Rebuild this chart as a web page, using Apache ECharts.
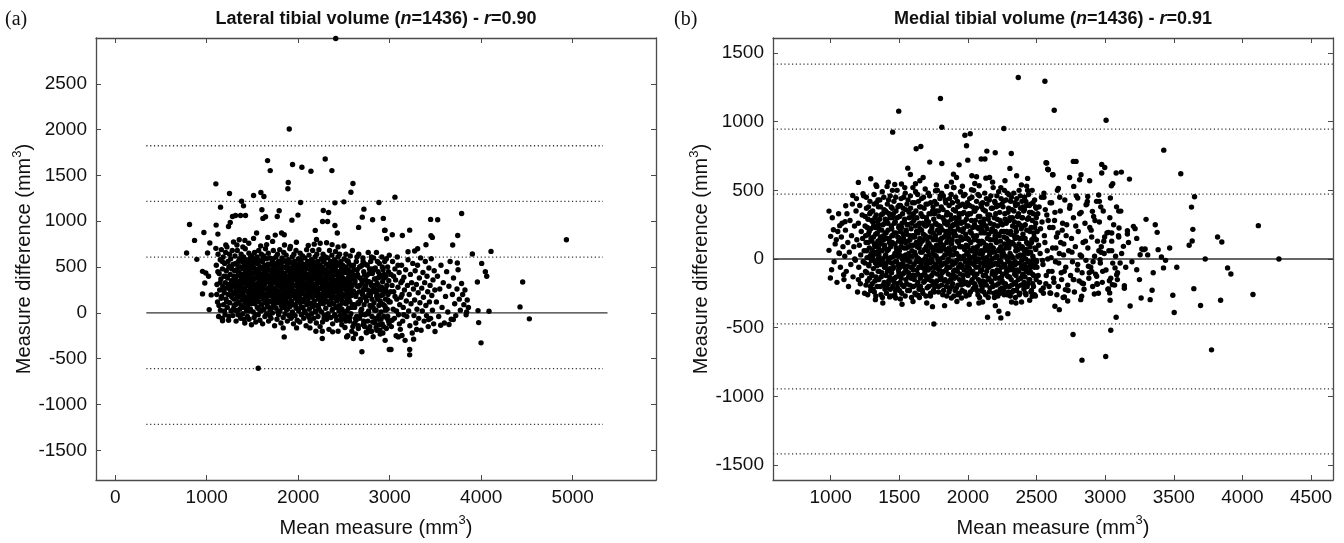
<!DOCTYPE html>
<html>
<head>
<meta charset="utf-8">
<script src="https://cdn.jsdelivr.net/npm/echarts@6/dist/echarts.min.js"></script>
<style>
html,body{margin:0;padding:0;background:#fff;}
#chart{width:1344px;height:543px;}
</style>
</head>
<body>
<div id="chart"></div>
<script>
// ---------- Panel (a): Lateral tibial volume ----------
const lateralTitle = ['Lateral tibial volume (', 'n', '=1436) - ', 'r', '=0.90'];
const lateralXTicks = [0, 1000, 2000, 3000, 4000, 5000];
const lateralYTicks = [-1500, -1000, -500, 0, 500, 1000, 1500, 2000, 2500];
const lateralXRange = [-210, 5910];
const lateralYRange = [-1824, 3000];
const lateralMean = 0;
const lateralLimits = [1824, 1216, 608, -608, -1216];
const lateralLineExtent = [340, 5330];
const lateralMeanExtent = [340, 5380];

const lateralOutliers = [
[2410,2995],[1902,2007],[1665,1662],[1694,1553],[1938,1619],[2040,1590],[2139,1546],[2295,1680],[2368,1553],[1100,1408],[1891,1423],[1887,1354],[2598,1412],[2576,1317],[1249,1303],[1512,1281],[1592,1314],[1625,1270],[1381,1219],[1402,1168],[1151,1154],[2026,1205],[2401,1201],[2499,1212],[2882,1205],[812,965],[1103,958],[1122,860],[969,878],[867,791],[780,653],[892,584],[1009,653],[1238,943],[1257,987],[1282,1052],[1315,1063],[1370,1063],[1424,1063],[1614,1031],[1643,1049],[1771,1052],[1792,1114],[1603,1125],[1931,1012],[1997,1067],[2274,1118],[2332,1096],[2266,998],[2321,998],[2401,954],[2427,871],[2660,933],[2700,1045],[2718,1132],[2813,1016],[2930,1031],[2944,900],[2966,809],[1293,773],[1417,791],[1512,813],[1545,871],[1668,824],[1749,849],[1818,871],[1847,853],[2186,900],[2200,802],[2310,766],[1034,762],[1100,704],[1209,740],[1355,798],[954,453],[990,435],[1020,399],[979,326],[954,207],[1049,196],[1027,36],[1173,-73],[1173,-87],[1836,-164],[1847,-262],[1982,-164],[2128,-164],[2193,-200],[2263,-200],[2263,-280],[2376,-207],[2529,-262],[2602,-280],[2616,-116],[2696,-425],[2718,-116],[2747,-218],[2802,-200],[2893,-189],[2995,-400],[1563,-605],
[3057,1263],[3447,1020],[3524,1016],[3786,1085],[2948,903],[3028,853],[3138,845],[3218,903],[3451,842],[3466,824],[3743,845],[3688,740],[3903,642],[4107,671],[4931,798],[3396,744],[3305,700],[3200,667],[3272,675],[3739,544],[4005,540],[4045,450],[4060,399],[3958,337],[4453,337],[4424,65],[4526,-65],[4085,18],[3965,25],[3972,-106],[3998,-327],[3841,11],[3695,-73],[3648,-127],[3557,-135],[3495,-204],[3426,-73],[3294,-182],[3261,-287],[3218,-400],[3218,-458],[3134,-247],[3094,-262],[3014,-400]
];

const lateralCore = [
[1105,520],[1112,310],[1118,120],[1124,640],[1130,-40],[1136,430],[1142,250],[1148,580],[1150,30],[1155,370],[1160,690],[1163,180],[1168,-60],[1172,480],[1176,290],[1180,610],[1184,90],[1188,400],[1192,220],[1196,540],[1200,-20],[1203,330],[1207,660],[1211,150],[1214,460],[1218,270],[1221,720],[1225,60],[1228,380],[1232,560],[1235,200],[1239,-80],[1242,500],[1246,310],[1249,640],[1252,110],[1256,420],[1259,250],[1262,590],[1266,20],[1269,350],[1273,480],[1276,170],[1279,680],[1283,290],[1286,-30],[1290,530],[1293,220],[1296,400],[1299,80],
[1302,150],[1304,460],[1307,290],[1309,620],[1311,30],[1314,380],[1316,210],[1318,540],[1321,-90],[1323,330],[1326,100],[1328,470],[1331,250],[1334,680],[1337,170],[1340,410],[1343,-20],[1346,560],[1348,300],
[1351,120],[1353,440],[1356,260],[1358,590],[1361,40],[1363,350],[1366,190],[1368,500],[1371,-60],[1373,310],[1376,640],[1378,80],[1381,420],[1384,230],[1386,560],[1389,140],[1392,370],[1395,-10],[1398,480],
[1401,270],[1403,610],[1406,60],[1408,390],[1411,180],[1413,520],[1416,-110],[1418,330],[1421,700],[1423,110],[1426,450],[1428,240],[1431,580],[1434,20],[1436,360],[1439,160],[1442,490],[1445,-40],[1448,300],
[1451,540],[1453,90],[1456,410],[1458,220],[1461,650],[1463,-70],[1466,340],[1468,130],[1471,470],[1473,260],[1476,600],[1478,40],[1481,380],[1484,200],[1486,510],[1489,-130],[1492,290],[1495,620],[1498,150],
[1501,430],[1503,250],[1506,580],[1508,10],[1511,360],[1513,170],[1516,490],[1518,-50],[1521,310],[1523,660],[1526,100],[1528,440],[1531,230],[1534,550],[1536,-100],[1539,380],[1542,140],[1545,470],[1548,280],
[1551,610],[1553,60],[1556,400],[1558,210],[1561,530],[1563,-20],[1566,330],[1568,680],[1571,120],[1573,450],[1576,260],[1578,570],[1581,-80],[1584,370],[1586,180],[1589,500],[1592,20],[1595,300],[1598,640],
[1601,90],[1603,420],[1606,240],[1608,560],[1611,-120],[1613,350],[1616,150],[1618,480],[1621,290],[1623,620],[1626,40],[1628,390],[1631,200],[1634,520],[1636,-40],[1639,320],[1642,700],[1645,110],[1648,450],
[1651,260],[1653,590],[1656,-10],[1658,370],[1661,180],[1663,500],[1666,70],[1668,410],[1671,230],[1673,650],[1676,-90],[1678,340],[1681,130],[1684,470],[1686,280],[1689,600],[1692,30],[1695,390],[1698,200],
[1701,530],[1703,-60],[1706,310],[1708,120],[1711,440],[1713,250],[1716,570],[1718,0],[1721,360],[1723,170],[1726,490],[1728,680],[1731,80],[1734,400],[1736,220],[1739,540],[1742,-140],[1745,330],[1748,150],
[1751,460],[1753,270],[1756,610],[1758,50],[1761,380],[1763,190],[1766,510],[1768,-70],[1771,300],[1773,640],[1776,110],[1778,430],[1781,240],[1784,560],[1786,-20],[1789,350],[1792,160],[1795,480],[1798,690],
[1801,20],[1803,390],[1806,210],[1808,530],[1811,-110],[1813,320],[1816,130],[1818,450],[1821,260],[1823,600],[1826,60],[1828,410],[1831,180],[1834,500],[1836,-50],[1839,340],[1842,660],[1845,100],[1848,420],
[1851,230],[1853,570],[1856,-10],[1858,370],[1861,150],[1863,490],[1866,290],[1868,630],[1871,40],[1873,400],[1876,200],[1878,520],[1881,-90],[1884,320],[1886,110],[1889,460],[1892,250],[1895,580],[1898,-30],
[1901,350],[1903,170],[1906,490],[1908,700],[1911,70],[1913,410],[1916,220],[1918,550],[1921,-60],[1923,310],[1926,130],[1928,450],[1931,270],[1934,610],[1936,10],[1939,380],[1942,190],[1945,510],[1948,-120],
[1951,300],[1953,640],[1956,90],[1958,430],[1961,240],[1963,560],[1966,-30],[1968,360],[1971,160],[1973,480],[1976,680],[1978,50],[1981,390],[1984,200],[1986,520],[1989,-80],[1992,330],[1995,140],[1998,460],
[2001,260],[2003,590],[2006,20],[2008,370],[2011,180],[2013,500],[2016,-100],[2018,310],[2021,650],[2023,110],[2026,440],[2028,230],[2031,570],[2034,-20],[2036,350],[2039,150],[2042,470],[2045,280],[2048,620],
[2051,60],[2053,400],[2056,210],[2058,530],[2061,-60],[2063,330],[2066,120],[2068,450],[2071,260],[2073,600],[2076,0],[2078,380],[2081,190],[2084,510],[2086,-140],[2089,300],[2092,690],[2095,90],[2098,420],
[2101,240],[2103,560],[2106,-30],[2108,350],[2111,160],[2113,480],[2116,280],[2118,630],[2121,40],[2123,400],[2126,210],[2128,520],[2131,-90],[2134,320],[2136,100],[2139,460],[2142,250],[2145,580],[2148,-10],
[2151,360],[2153,170],[2156,500],[2158,680],[2161,70],[2163,420],[2166,230],[2168,550],[2171,-60],[2173,310],[2176,130],[2178,450],[2181,270],[2184,610],[2186,20],[2189,380],[2192,190],[2195,520],[2198,-110],
[2201,300],[2203,640],[2206,80],[2208,430],[2211,240],[2213,560],[2216,-40],[2218,350],[2221,150],[2223,480],[2226,690],[2228,40],[2231,390],[2234,200],[2236,520],[2239,-150],[2242,330],[2245,110],[2248,460],
[2251,260],[2253,590],[2256,10],[2258,370],[2261,180],[2263,500],[2266,-100],[2268,310],[2271,640],[2273,100],[2276,440],[2278,230],[2281,570],[2284,-30],[2286,350],[2289,150],[2292,470],[2295,280],[2298,610],
[2301,50],[2303,400],[2306,210],[2308,530],[2311,-70],[2313,330],[2316,120],[2318,450],[2321,260],[2323,600],[2326,-10],[2328,380],[2331,190],[2334,510],[2336,-180],[2339,300],[2342,680],[2345,90],[2348,420],
[2351,240],[2353,560],[2356,-50],[2358,350],[2361,160],[2363,480],[2366,280],[2368,630],[2371,30],[2373,400],[2376,-120],[2378,520],[2381,210],[2384,320],[2386,100],[2389,460],[2392,250],[2395,580],[2398,-20],
[2401,360],[2403,170],[2406,500],[2408,670],[2411,60],[2413,420],[2416,230],[2418,550],[2421,-80],[2423,310],[2426,130],[2428,450],[2431,270],[2434,610],[2436,-200],[2439,380],[2442,190],[2445,20],[2448,520],
[2451,300],[2453,640],[2456,80],[2458,430],[2461,-30],[2463,240],[2466,560],[2468,350],[2471,150],[2473,480],[2476,-130],[2478,40],[2481,390],[2484,200],[2486,520],[2489,-60],[2492,330],[2495,110],[2498,460],
[2501,260],[2503,590],[2506,10],[2508,370],[2511,-160],[2513,180],[2516,500],[2518,310],[2521,640],[2523,100],[2526,440],[2528,-40],[2531,230],[2534,570],[2536,350],[2539,150],[2542,-250],[2545,470],[2548,280],
[2551,50],[2553,400],[2556,210],[2558,530],[2561,-90],[2563,330],[2566,120],[2568,620],[2571,450],[2573,260],[2576,-10],[2578,380],[2581,190],[2584,510],[2586,-200],[2589,300],[2592,680],[2595,90],[2598,420],
[2603,240],[2608,-120],[2612,470],[2617,60],[2621,350],[2626,-230],[2630,180],[2635,560],[2639,-40],[2644,290],[2648,420],[2653,110],[2657,-170],[2662,640],[2666,230],[2671,-60],[2675,380],[2680,150],[2684,510],[2689,-280],[2693,40],[2698,320],[2702,200],[2707,600],[2711,-130],[2716,450],[2720,90],[2725,270],[2729,-20],[2734,530],[2738,360],[2743,-210],[2747,130],[2752,410],[2756,250],[2761,-90],[2765,660],[2770,20],[2774,340],[2779,480],[2783,-150],[2788,190],[2792,560],[2797,70],[2801,300],[2806,-40],[2810,430],[2815,230],[2819,-260],[2824,600],[2828,110],[2833,370],[2837,-110],[2842,490],[2846,250],[2851,30],[2855,660],[2860,-190],[2864,320],[2869,150],[2873,450],[2878,-70],[2882,80],[2887,540],[2891,280],[2896,-230],[2900,390],[2905,10],[2909,190],[2914,610],[2918,-120],[2923,340],[2927,470],[2932,90],[2936,-40],[2941,250],[2945,560],[2950,-300],[2954,150],[2959,400],[2963,-170],[2968,300],[2972,40],[2977,500],[2981,200],[2986,-90],[2990,350],[2995,630],
[3005,120],[3012,420],[3018,-150],[3025,300],[3031,560],[3038,40],[3044,230],[3051,-60],[3057,480],[3064,360],[3070,-250],[3077,150],[3083,610],[3090,280],[3096,-20],[3103,440],[3109,90],[3116,-180],[3122,330],[3129,520],[3135,200],[3142,-90],[3148,60],[3155,390],[3161,250],[3168,-300],[3174,470],[3181,130],[3187,-40],[3194,300],[3200,580],[3207,20],[3213,200],[3220,-140],[3226,420],[3233,100],[3239,330],[3246,-220],[3252,540],[3259,260],[3265,-30],[3272,140],[3278,460],[3285,-110],[3291,310],[3298,40],[3304,520],[3311,220],[3317,-60],[3324,380],[3330,110],[3337,600],[3343,-190],[3350,270],[3356,20],[3363,440],[3369,170],[3376,-90],[3382,330],[3389,560],[3395,80],[3402,-30],[3408,400],[3415,230],[3421,-150],[3428,490],[3434,120],[3441,300],[3447,-60],[3454,590],[3460,190],[3467,30],[3473,360],[3480,-120],[3486,460],[3493,250],
[3510,120],[3522,400],[3535,-40],[3547,260],[3560,520],[3572,60],[3585,330],[3597,-110],[3610,180],[3622,450],[3635,10],[3647,290],[3660,560],[3672,-70],[3685,200],[3697,380],[3710,100],[3722,-30],[3735,260],[3747,470],[3760,150],[3772,30],[3785,320],[3797,200],[3810,90],[3822,250],[3835,-20],[3847,140],[3860,60]
];

const lateralCoreExtra = [
[1110,200],[1122,450],[1134,80],[1146,330],[1158,160],[1170,560],[1182,250],[1194,20],[1206,400],[1218,120],[1230,280],[1242,-40],[1254,510],[1266,190],[1278,340],[1290,40],
[1305,360],[1312,90],[1319,250],[1327,530],[1333,20],[1339,310],[1344,180],[1349,440],
[1354,290],[1359,500],[1364,-30],[1369,230],[1375,400],[1380,60],[1388,330],[1396,200],
[1404,420],[1409,-70],[1414,270],[1419,130],[1425,560],[1432,300],[1440,50],[1447,410],
[1454,180],[1459,350],[1464,20],[1470,560],[1475,240],[1482,440],[1488,100],[1496,330],
[1504,320],[1509,120],[1515,540],[1520,200],[1527,380],[1533,-20],[1540,260],[1547,600],
[1554,160],[1559,470],[1565,280],[1570,40],[1577,350],[1583,220],[1590,420],[1597,90],
[1604,310],[1609,180],[1615,590],[1620,40],[1627,260],[1633,440],[1640,130],[1647,350],
[1654,420],[1659,100],[1665,260],[1670,530],[1677,200],[1683,370],[1690,-30],[1697,300],
[1704,190],[1709,380],[1715,60],[1720,270],[1727,590],[1733,330],[1740,100],[1747,450],
[1754,350],[1759,140],[1765,420],[1770,240],[1777,10],[1783,380],[1790,560],[1797,200],
[1804,290],[1809,460],[1815,80],[1820,360],[1827,200],[1833,560],[1840,130],[1847,280],
[1854,430],[1859,90],[1865,300],[1870,200],[1877,560],[1883,40],[1890,360],[1897,240],
[1904,270],[1909,100],[1915,410],[1920,190],[1927,340],[1933,-40],[1940,470],[1947,220],
[1954,200],[1959,370],[1965,560],[1970,80],[1977,300],[1983,430],[1990,130],[1997,250],
[2004,420],[2009,130],[2015,300],[2020,550],[2027,60],[2033,380],[2040,220],[2047,460],
[2054,310],[2059,150],[2065,490],[2070,20],[2077,270],[2083,410],[2090,180],[2097,330],
[2104,140],[2109,420],[2115,290],[2120,-50],[2127,370],[2133,200],[2140,540],[2147,90],
[2154,280],[2159,560],[2165,110],[2170,380],[2177,230],[2183,480],[2190,10],[2197,320],
[2204,190],[2209,370],[2215,500],[2220,70],[2227,270],[2233,410],[2240,160],[2247,340],
[2254,420],[2259,110],[2265,290],[2270,560],[2277,200],[2283,-60],[2290,350],[2297,180],
[2304,270],[2309,130],[2315,390],[2320,-30],[2327,210],[2333,500],[2340,100],[2347,320],
[2354,120],[2359,430],[2365,220],[2370,370],[2377,40],[2383,270],[2390,560],[2397,160],
[2404,300],[2409,-40],[2415,460],[2420,160],[2427,350],[2433,70],[2440,260],[2447,410],
[2454,180],[2459,360],[2465,-80],[2470,260],[2477,500],[2483,110],[2490,300],[2497,-10],
[2504,440],[2509,120],[2515,260],[2520,-90],[2527,350],[2533,20],[2540,200],[2547,560],
[2554,150],[2559,300],[2565,-50],[2570,420],[2577,230],[2583,60],[2590,370],[2597,-150],
[2605,380],[2618,200],[2632,-80],[2645,470],[2658,100],[2672,300],[2685,20],[2698,520],[2712,250],[2725,-150],[2738,160],[2752,340],[2765,-10],[2778,240],[2792,-200],[2805,480],[2818,60],[2832,300],[2845,-60],[2858,180],[2872,380],[2885,-130],[2898,250],[2912,100],[2925,-220],[2938,420],[2952,30],[2965,230],[2978,-40],[2992,120]
];

const lateralCoreEdge = [
[2604,520],[2611,90],[2619,330],[2627,-60],[2634,210],[2642,610],[2649,400],[2656,-140],[2664,290],[2671,500],[2679,130],[2686,-20],[2694,360],[2701,220],[2709,560],[2716,-90],[2724,410],[2731,170],[2739,300],[2746,-10],[2754,520],[2761,190],[2769,-180],[2776,430],[2784,80],[2791,330],[2799,610],[2806,150],[2814,-100],[2821,260],[2829,470],[2836,30],[2844,370],[2851,-160],[2859,210],[2866,560],[2874,300],[2881,-30],[2889,420],[2896,130],[2904,-70],[2911,280],[2919,500],[2926,200],[2934,-150],[2941,380],[2949,70],[2956,260],[2964,590],[2971,-60],[2979,140],[2986,450],[2994,-120],[3010,230],[3026,-80],[3042,400],[3058,180],[3074,20],[3090,520],[3106,-120],[3122,170],[3138,350],[3154,-20],
[1330,740],[1460,760],[1590,730],[1720,780],[1850,740],[1980,770],[2110,735],[2240,760],[2370,745],[2500,730],[1395,720],[1655,745],[1915,725],[2175,750],[2435,720]
];

// ---------- Panel (b): Medial tibial volume ----------
const medialTitle = ['Medial tibial volume (', 'n', '=1436) - ', 'r', '=0.91'];
const medialXTicks = [1000, 1500, 2000, 2500, 3000, 3500, 4000, 4500];
const medialYTicks = [-1500, -1000, -500, 0, 500, 1000, 1500];
const medialXRange = [580, 4660];
const medialYRange = [-1610, 1610];
const medialMean = 0;
const medialLimits = [1419, 946, 473, -473, -946, -1419];
const medialLineExtent = [580, 4660];

const medialOutliers = [
[2367,1322],[2561,1295],[2629,1084],[1800,1169],[1496,1077],[1452,924],[1810,960],[2262,951],[1978,902],[2017,912],[1990,825],[1623,803],[1657,820],[1722,706],[1810,696],[1999,720],[1936,686],[2138,786],[2199,774],[2097,728],[2124,728],[2316,769],[2306,660],[2569,701],[2586,650],[2617,614],[1562,662],[1581,616],[1674,594],[1895,618],[1917,594],[2029,606],[2063,599],[2158,594],[1292,585],[1202,558],[1336,529],[1411,529],[1467,543],[1516,546],[1618,548],[1764,497],[1846,529],[1895,521],[2026,504],[2082,534],[2131,589],[2270,570],[2355,606],[2435,587],[2428,531],
[988,349],[1110,388],[1161,463],[1236,475],[1000,165],[1020,213],[988,63],[1007,-78],[998,-138],[1095,-114],[1061,44],[1041,141],[1066,243],[1105,272],[1202,-150],[1326,-296],[1430,-276],[1474,-284],[1508,-291],[1637,-264],[1742,-347],[1752,-473],[1880,-284],[1953,-284],[2107,-313],[2143,-424],[2226,-381],[2240,-429],[2291,-398],[2318,-313],[2391,-313],[2469,-271],[2634,-344],[2666,-369],
[3007,1011],[3427,793],[3551,621],[3651,454],[3629,378],[3639,216],[3612,100],[3634,131],[3819,160],[3850,124],[4116,243],[4266,0],[3729,0],[3298,289],[3379,194],[3386,68],[3410,15],[3425,-65],[3522,-60],[3230,-78],[3342,-228],[3262,-284],[3328,-296],[3182,-342],[3493,-264],[3503,-390],[3646,-216],[3695,-339],[3841,-301],[4077,-259],[3892,-65],[3916,-109],[3775,-662],[2766,-550],[2831,-737],[3004,-710],[3041,-519],[3080,-424],[3036,-301],[3033,-247],[3140,-213],[3140,-194],[3089,-150],[3133,92],[3099,160],[3162,182],[3162,206],[3206,238],[3218,221],[3255,31],[3279,68],[3267,73],[3291,73],[3177,582],[3118,633],[3080,626],[3099,349],[3114,349],[3045,534],[3055,548],[3038,444],[2953,466],[2975,689],[2997,667],[2975,626],[2887,570],[2824,614],[2814,577],[2741,594],[2788,711],[2768,711],[2581,655],[2620,614],[2659,514],[2574,699],[2554,480],[2771,529],[2800,444],[2873,456],[2861,395],[2907,347],[2958,420],[3101,226],[3024,194],[3048,189],[2990,129],[3048,61],[2970,49],[2963,-5],[2878,-53],[2902,-90],[2938,-126],[2943,-184],[2921,-255],[2831,-174],[2768,-150],[2829,-271],[2822,-296],[2710,-223],[2703,-276],[2727,-306],[2549,-211],[2598,-247],[3031,-158],[3084,-114],[3109,-29],[3072,-65],[3053,-187],[3024,-218]
];

const medialCore = [
[1012,300],[1025,-20],[1033,110],[1046,-170],[1052,200],[1064,40],[1071,-60],[1083,260],[1090,90],[1097,-150],[1078,160],[1058,330],
[1103,20],[1108,210],[1114,-90],[1119,330],[1125,120],[1130,-200],[1136,50],[1141,280],[1147,-40],[1152,170],[1158,400],[1163,-130],[1169,90],[1174,240],[1180,-10],[1185,350],[1191,140],[1196,-240],[1188,440],[1176,0],
[1202,260],[1205,-60],[1209,100],[1212,390],[1216,-180],[1219,30],[1223,200],[1226,-120],[1230,320],[1233,150],[1237,-20],[1240,460],[1244,60],[1247,-250],[1251,240],[1254,-90],[1258,120],[1261,370],[1265,10],[1268,-160],[1272,290],[1275,180],[1279,-40],[1282,80],[1286,420],[1289,-200],[1293,220],[1296,40],[1299,-110],[1285,330],
[1301,130],[1303,-180],[1306,350],[1308,20],[1311,-70],[1313,240],[1316,470],[1318,-240],[1321,90],[1323,300],[1326,-30],[1328,180],[1331,-130],[1334,410],[1336,50],[1339,-200],[1342,270],[1344,130],[1346,-90],[1348,380],[1349,10],
[1351,-150],[1353,220],[1356,60],[1358,430],[1361,-40],[1363,160],[1366,-260],[1368,320],[1371,110],[1373,-100],[1376,490],[1378,0],[1381,250],[1384,-190],[1386,140],[1389,360],[1392,-60],[1394,80],[1396,-220],[1398,290],[1399,190],
[1401,30],[1403,-120],[1406,280],[1408,150],[1411,-210],[1413,400],[1416,-20],[1418,210],[1421,70],[1423,-160],[1426,330],[1428,120],[1431,-70],[1434,460],[1436,10],[1439,-270],[1442,240],[1444,-100],[1446,170],[1448,370],[1449,-30],
[1451,300],[1453,-200],[1456,110],[1458,-60],[1461,420],[1463,190],[1466,-140],[1468,40],[1471,270],[1473,-230],[1476,350],[1478,80],[1481,-20],[1484,500],[1486,-180],[1489,160],[1492,20],[1494,-80],[1496,230],[1498,390],[1499,-120],
[1501,60],[1503,310],[1506,-170],[1508,200],[1511,-40],[1513,440],[1516,120],[1518,-250],[1521,260],[1523,0],[1526,-110],[1528,370],[1531,150],[1534,-200],[1536,80],[1539,290],[1542,-60],[1544,480],[1546,30],[1548,-150],[1549,210],
[1551,-90],[1553,180],[1556,400],[1558,-10],[1561,-230],[1563,250],[1566,90],[1568,-130],[1571,340],[1573,20],[1576,-190],[1578,140],[1581,460],[1584,-60],[1586,220],[1589,-280],[1592,60],[1594,310],[1596,-120],[1598,170],[1599,520],
[1601,100],[1603,-200],[1606,280],[1608,-40],[1611,410],[1613,160],[1616,-120],[1618,30],[1621,350],[1623,-260],[1626,200],[1628,-80],[1631,90],[1634,470],[1636,-170],[1639,250],[1642,0],[1644,-220],[1646,130],[1648,380],[1649,-20],
[1651,220],[1653,-140],[1656,50],[1658,330],[1661,-60],[1663,440],[1666,130],[1668,-230],[1671,260],[1673,-10],[1676,180],[1678,-170],[1681,370],[1684,70],[1686,-100],[1689,510],[1692,240],[1694,-270],[1696,20],[1698,300],[1699,-50],
[1701,150],[1703,-210],[1706,400],[1708,60],[1711,-80],[1713,270],[1716,-150],[1718,110],[1721,460],[1723,-30],[1726,200],[1728,-250],[1731,330],[1734,0],[1736,-120],[1739,240],[1742,80],[1744,-190],[1746,380],[1748,140],[1749,-60],
[1751,290],[1753,-100],[1756,30],[1758,420],[1761,-200],[1763,170],[1766,-40],[1768,350],[1771,100],[1773,-160],[1776,250],[1778,500],[1781,-70],[1784,60],[1786,-240],[1789,310],[1792,190],[1794,-20],[1796,440],[1798,-130],[1799,120],
[1801,-50],[1803,230],[1806,380],[1808,-190],[1811,90],[1813,-100],[1816,300],[1818,10],[1821,460],[1823,-230],[1826,160],[1828,-30],[1831,260],[1834,-150],[1836,70],[1839,410],[1842,-80],[1844,200],[1846,-270],[1848,340],[1849,40],
[1851,130],[1853,-170],[1856,270],[1858,0],[1861,-60],[1863,390],[1866,190],[1868,-220],[1871,60],[1873,320],[1876,-120],[1878,470],[1881,110],[1884,-20],[1886,240],[1889,-180],[1892,30],[1894,360],[1896,-90],[1898,170],[1899,520],
[1901,-140],[1903,80],[1906,300],[1908,-30],[1911,450],[1913,170],[1916,-210],[1918,40],[1921,250],[1923,-90],[1926,380],[1928,-260],[1931,120],[1934,20],[1936,330],[1939,-150],[1942,210],[1944,-40],[1946,490],[1948,90],[1949,-180],
[1951,260],[1953,-60],[1956,140],[1958,-230],[1961,400],[1963,10],[1966,-120],[1968,220],[1971,340],[1973,-180],[1976,70],[1978,470],[1981,-20],[1984,180],[1986,-270],[1989,290],[1992,40],[1994,-100],[1996,410],[1998,150],[1999,-40],
[2001,90],[2003,-190],[2006,330],[2008,20],[2011,-70],[2013,440],[2016,200],[2018,-240],[2021,120],[2023,-30],[2026,280],[2028,60],[2031,-150],[2034,380],[2036,-90],[2039,170],[2042,500],[2044,-210],[2046,10],[2048,250],[2049,-120],
[2051,350],[2053,-20],[2056,160],[2058,-200],[2061,70],[2063,420],[2066,-110],[2068,230],[2071,0],[2073,-260],[2076,310],[2078,130],[2081,-60],[2084,460],[2086,40],[2089,-170],[2092,270],[2094,-30],[2096,190],[2098,-230],[2099,380],
[2101,-80],[2103,210],[2106,40],[2108,-160],[2111,360],[2113,120],[2116,-240],[2118,290],[2121,-20],[2123,480],[2126,80],[2128,-120],[2131,240],[2134,-190],[2136,10],[2139,400],[2142,150],[2144,-60],[2146,320],[2148,-280],[2149,60],
[2151,180],[2153,-140],[2156,430],[2158,30],[2161,-210],[2163,260],[2166,100],[2168,-50],[2171,370],[2173,-170],[2176,0],[2178,220],[2181,-90],[2184,520],[2186,140],[2189,-250],[2192,300],[2194,50],[2196,-120],[2198,410],[2199,200],
[2201,-30],[2203,330],[2206,-190],[2208,120],[2211,460],[2213,-80],[2216,240],[2218,-270],[2221,60],[2223,390],[2226,-140],[2228,170],[2231,-10],[2234,280],[2236,-220],[2239,90],[2242,440],[2244,-60],[2246,200],[2248,20],[2249,-160],
[2251,250],[2253,-110],[2256,380],[2258,40],[2261,-230],[2263,160],[2266,500],[2268,-40],[2271,290],[2273,-180],[2276,80],[2278,430],[2281,-90],[2284,200],[2286,-260],[2289,10],[2292,340],[2294,-130],[2296,130],[2298,470],[2299,-20],
[2301,100],[2303,-200],[2306,300],[2308,-50],[2311,420],[2313,180],[2316,-150],[2318,20],[2321,360],[2323,-240],[2326,240],[2328,-80],[2331,110],[2334,480],[2336,-180],[2339,270],[2342,-20],[2344,150],[2346,-280],[2348,390],[2349,60],
[2351,-120],[2353,200],[2356,440],[2358,-30],[2361,310],[2363,-200],[2366,70],[2368,260],[2371,-90],[2373,500],[2376,150],[2378,-250],[2381,30],[2384,370],[2386,-140],[2389,220],[2392,-10],[2394,420],[2396,90],[2398,-190],[2399,300],
[2401,180],[2403,-70],[2406,350],[2408,-220],[2411,60],[2413,450],[2416,-130],[2418,250],[2421,0],[2423,-260],[2426,390],[2428,120],[2431,-60],[2434,290],[2436,-180],[2439,40],[2442,470],[2444,-100],[2446,210],[2448,-20],[2449,340],
[2451,-150],[2453,90],[2456,400],[2458,-40],[2461,230],[2463,-230],[2466,140],[2468,500],[2471,-110],[2473,20],[2476,330],[2478,-200],[2481,190],[2484,-60],[2486,430],[2489,80],[2492,-270],[2494,260],[2496,-10],[2498,370],[2499,140],
[2505,200],[2512,-120],[2519,380],[2526,40],[2533,-230],[2540,270],[2547,-40],[2554,450],[2561,120],[2568,-180],[2575,320],[2582,0],[2589,-90],[2596,230],
[2603,-250],[2610,410],[2617,80],[2624,-140],[2631,280],[2638,-20],[2645,160],[2652,500],[2659,-200],[2666,40],[2673,350],[2680,-100],[2687,210],[2694,-280],[2699,110],
[2706,430],[2713,-60],[2720,250],[2727,-190],[2734,60],[2741,370],[2748,-120],[2755,150],[2762,-20],[2769,300],[2776,-240],[2783,90],[2790,460],[2797,-80],
[2804,200],[2811,-160],[2818,30],[2825,340],[2832,-100],[2839,120],[2846,-220],[2853,260],[2860,-10],[2867,400],[2874,80],[2881,-140],[2888,230],[2895,-60],
[2902,160],[2909,-200],[2916,310],[2923,20],[2930,-110],[2937,420],[2944,130],[2951,-250],[2958,270],[2965,-30],[2972,90],[2979,-170],[2986,350],[2993,40],
[3006,-80],[3013,190],[3020,-220],[3027,60],[3034,300],[3041,-140],[3048,130],[3055,-30],[3062,250],[3069,-190],[3076,20],[3083,380],[3090,-100],[3097,170],
[3120,40],[3150,-60],[3170,120],[3195,-20],[3230,150],[3250,-150],[3310,30],[3350,-100],[3365,250],[3440,-10],[3470,80]
];

const medialCoreExtra = [
[1250,-30],[1252,310],[1255,170],[1257,-190],[1260,450],[1262,60],[1264,-100],[1267,230],[1270,-260],[1273,120],[1276,380],[1278,-50],[1281,200],[1283,-140],[1287,20],[1290,340],[1292,-230],[1294,150],[1297,-10],[1298,280],
[1302,-120],[1304,60],[1307,270],[1309,-220],[1312,160],[1314,-10],[1317,400],[1319,110],[1322,-160],[1324,230],[1327,40],[1329,-270],[1332,320],[1335,100],[1337,-50],[1340,190],[1343,-150],[1345,430],[1347,-20],[1349,250],[1350,80],
[1352,30],[1354,-90],[1357,290],[1359,140],[1362,-200],[1364,380],[1367,0],[1369,-130],[1372,210],[1374,60],[1377,-280],[1379,330],[1382,-30],[1385,170],[1387,450],[1390,-170],[1393,100],[1395,260],[1397,-60],[1398,20],[1400,350],
[1402,-40],[1404,190],[1407,-250],[1409,340],[1412,60],[1414,-90],[1417,260],[1419,-180],[1422,430],[1424,0],[1427,150],[1429,-130],[1432,300],[1435,-220],[1437,90],[1440,380],[1443,-30],[1445,220],[1447,-150],[1449,120],[1450,500],
[1452,170],[1454,-70],[1457,330],[1459,20],[1462,-170],[1464,260],[1467,-260],[1469,110],[1472,-20],[1474,450],[1477,190],[1479,-130],[1482,60],[1485,300],[1487,-210],[1490,380],[1493,-50],[1495,130],[1497,-100],[1498,240],[1500,30],
[1502,-230],[1504,150],[1507,-60],[1509,390],[1512,90],[1514,-140],[1517,230],[1519,20],[1522,-190],[1524,330],[1527,-30],[1529,180],[1532,450],[1535,-100],[1537,270],[1540,10],[1543,-270],[1545,120],[1547,360],[1548,-70],[1550,200],
[1552,80],[1554,-180],[1557,250],[1559,-50],[1562,130],[1564,430],[1567,-100],[1569,40],[1572,300],[1574,-230],[1577,170],[1579,-20],[1582,370],[1585,100],[1587,-140],[1590,260],[1593,-60],[1595,20],[1597,410],[1598,-200],[1600,160],
[1602,-80],[1604,330],[1607,170],[1609,-150],[1612,50],[1614,-250],[1617,240],[1619,490],[1622,-20],[1624,120],[1627,-190],[1629,300],[1632,10],[1635,-110],[1637,190],[1640,420],[1643,-60],[1645,80],[1647,-280],[1648,260],[1650,150],
[1652,110],[1654,-200],[1657,380],[1659,-30],[1662,210],[1664,-120],[1667,50],[1669,310],[1672,-250],[1674,140],[1677,450],[1679,-70],[1682,250],[1685,-160],[1687,0],[1690,170],[1693,-40],[1695,400],[1697,90],[1698,-130],[1700,280],
[1702,-10],[1704,250],[1707,-130],[1709,120],[1712,480],[1714,-200],[1717,330],[1719,30],[1722,-70],[1724,160],[1727,-270],[1729,410],[1732,90],[1735,-160],[1737,220],[1740,-20],[1743,350],[1745,50],[1747,-100],[1748,190],[1750,-230],
[1752,150],[1754,-240],[1757,330],[1759,70],[1762,-60],[1764,260],[1767,-170],[1769,20],[1772,400],[1774,140],[1777,-110],[1779,210],[1782,-10],[1785,350],[1787,-200],[1790,90],[1793,-80],[1795,240],[1797,0],[1798,460],[1800,-150],
[1802,60],[1804,-130],[1807,150],[1809,480],[1812,-40],[1814,210],[1817,-260],[1819,360],[1822,100],[1824,-90],[1827,280],[1829,-160],[1832,30],[1835,430],[1837,-30],[1840,180],[1843,-200],[1845,320],[1847,120],[1848,-60],[1850,250],
[1852,-20],[1854,330],[1857,-110],[1859,160],[1862,-240],[1864,80],[1867,440],[1869,-60],[1872,220],[1874,-150],[1877,30],[1879,290],[1882,-200],[1885,140],[1887,410],[1890,-40],[1893,250],[1895,-120],[1897,70],[1898,-270],[1900,200],
[1902,190],[1904,-80],[1907,-230],[1909,350],[1912,40],[1914,-130],[1917,270],[1919,-10],[1922,130],[1924,420],[1927,-190],[1929,220],[1932,-60],[1935,300],[1937,-250],[1940,90],[1943,390],[1945,-110],[1947,160],[1948,0],[1950,270],
[1952,-190],[1954,90],[1957,330],[1959,-50],[1962,200],[1964,-150],[1967,460],[1969,20],[1972,-80],[1974,270],[1977,-240],[1979,150],[1982,380],[1985,-10],[1987,100],[1990,-170],[1993,240],[1995,-60],[1997,50],[1998,320],[2000,-120],
[2002,240],[2004,-60],[2007,140],[2009,-260],[2012,390],[2014,-10],[2017,60],[2019,330],[2022,-170],[2024,190],[2027,-100],[2029,450],[2032,10],[2035,230],[2037,-220],[2040,80],[2043,-40],[2045,350],[2047,140],[2048,-180],[2050,30],
[2052,-130],[2054,280],[2057,40],[2059,-60],[2062,370],[2064,170],[2067,-230],[2069,90],[2072,-20],[2074,470],[2077,-150],[2079,220],[2082,0],[2085,-280],[2087,310],[2090,110],[2093,-90],[2095,400],[2097,60],[2098,-190],[2100,240],
[2102,130],[2104,-210],[2107,410],[2109,10],[2112,-120],[2114,260],[2117,60],[2119,-50],[2122,190],[2124,-170],[2127,350],[2129,-260],[2132,100],[2135,440],[2137,-90],[2140,220],[2143,-30],[2145,70],[2147,-150],[2148,290],[2150,-10],
[2152,-60],[2154,90],[2157,-240],[2159,320],[2162,140],[2164,-20],[2167,460],[2169,-160],[2172,200],[2174,50],[2177,-110],[2179,370],[2182,-200],[2185,80],[2187,-40],[2190,250],[2193,-280],[2195,420],[2197,10],[2198,170],[2200,-140],
[2202,150],[2204,-100],[2207,380],[2209,-240],[2212,20],[2214,290],[2217,-40],[2219,180],[2222,-180],[2224,490],[2227,70],[2229,-90],[2232,340],[2235,-250],[2237,130],[2240,-20],[2243,260],[2245,-130],[2247,400],[2248,40],[2250,-210],
[2252,-170],[2254,60],[2257,-40],[2259,420],[2262,200],[2264,-260],[2267,110],[2269,330],[2272,-60],[2274,20],[2277,-200],[2279,260],[2282,150],[2285,-120],[2287,480],[2290,-10],[2293,190],[2295,-240],[2297,370],[2298,80],[2300,-80],
[2302,280],[2304,-130],[2307,40],[2309,-270],[2312,200],[2314,-30],[2317,450],[2319,-190],[2322,120],[2324,300],[2327,-60],[2329,10],[2332,-230],[2335,350],[2337,170],[2340,-110],[2343,410],[2345,-40],[2347,230],[2348,-170],[2350,90],
[2352,60],[2354,-230],[2357,160],[2359,-80],[2362,400],[2364,20],[2367,-150],[2369,330],[2372,110],[2374,-260],[2377,250],[2379,-30],[2382,460],[2385,-190],[2387,80],[2390,-60],[2393,300],[2395,150],[2397,-120],[2398,20],[2400,380],
[2402,-110],[2404,240],[2407,30],[2409,-170],[2412,360],[2414,-40],[2417,150],[2419,-250],[2422,420],[2424,70],[2427,-90],[2429,210],[2432,-200],[2435,500],[2437,110],[2440,-20],[2443,300],[2445,-150],[2447,50],[2448,390],[2450,-60],
[2452,200],[2454,-90],[2457,50],[2459,-240],[2462,340],[2464,120],[2467,-30],[2469,280],[2472,-180],[2474,410],[2477,0],[2479,-120],[2482,160],[2485,-260],[2487,230],[2490,-50],[2493,380],[2495,70],[2497,-150],[2498,300],[2500,-20],
[2503,-60],[2509,330],[2515,100],[2522,-170],[2529,220],[2536,450],[2543,-10],[2550,-250],[2557,170],[2564,360],[2571,-120],[2578,60],[2585,280],[2592,-200],[2599,410],[2606,10],[2613,-90],[2620,230],[2627,-170],[2634,340],[2641,80],[2648,-260],[2655,190],[2662,-30],[2669,450],[2676,120],[2683,-150],[2690,260],[2697,30],[2702,-90],[2716,170],[2730,-230],[2744,390],[2758,50],[2772,-150],[2786,240],[2800,-40],[2814,330],[2828,20],[2842,-180],[2856,130],[2870,420],[2884,-100],[2898,210],[2912,-20],[2926,280],[2940,-180],[2954,60],[2968,380],[2982,-90],[2996,160]
];

const medialCoreEdge = [
[1330,540],[1420,560],[1540,520],[1650,570],[1770,540],[1880,560],[1960,530],[2050,550],[2180,560],[2240,520],[2390,540],
[1380,-320],[1520,-330],[1600,-310],[1700,-320],[1830,-340],[1920,-310],[2010,-330],[2080,-320],[2200,-340],[2350,-320],[2450,-300]
];

const lateralPoints = lateralCore.concat(lateralCoreExtra, lateralCoreEdge, lateralOutliers);
const medialPoints = medialCore.concat(medialCoreExtra, medialCoreEdge, medialOutliers);

// ---------- styling ----------
const FONT = '"Liberation Sans", Arial, Helvetica, sans-serif';
const AXIS_COLOR = '#4a4a4a';
const TEXT_COLOR = '#111';

function nameRich() {
  return {
    fontFamily: FONT, fontSize: 20, color: TEXT_COLOR, lineHeight: 24,
    rich: {
      t: { fontFamily: FONT, fontSize: 20, color: TEXT_COLOR, lineHeight: 24, verticalAlign: 'bottom' },
      sup: { fontFamily: FONT, fontSize: 13, color: TEXT_COLOR, lineHeight: 24, verticalAlign: 'top' }
    }
  };
}

const plainNumber = v => String(v);

function xAxes(grid, range, ticks, name) {
  const common = {
    type: 'value', gridIndex: grid, min: range[0], max: range[1],
    splitLine: { show: false },
    axisLine: { show: true, onZero: false, lineStyle: { color: AXIS_COLOR, width: 1.3 } },
    axisTick: { show: true, inside: true, length: 5, customValues: ticks, lineStyle: { color: AXIS_COLOR, width: 1 } }
  };
  return [
    Object.assign({}, common, {
      position: 'bottom',
      axisLabel: { show: true, customValues: ticks, formatter: plainNumber, fontFamily: FONT, fontSize: 19, color: TEXT_COLOR, margin: 8 },
      name: name, nameLocation: 'middle', nameGap: 34, nameTextStyle: nameRich()
    }),
    Object.assign({}, common, { position: 'top', axisLabel: { show: false } })
  ];
}

function yAxes(grid, range, ticks, name) {
  const common = {
    type: 'value', gridIndex: grid, min: range[0], max: range[1],
    splitLine: { show: false },
    axisLine: { show: true, onZero: false, lineStyle: { color: AXIS_COLOR, width: 1.3 } },
    axisTick: { show: true, inside: true, length: 5, customValues: ticks, lineStyle: { color: AXIS_COLOR, width: 1 } }
  };
  return [
    Object.assign({}, common, {
      position: 'left',
      axisLabel: { show: true, customValues: ticks, formatter: plainNumber, fontFamily: FONT, fontSize: 19, color: TEXT_COLOR, margin: 9 },
      name: name, nameLocation: 'middle', nameGap: 54, nameRotate: 90, nameTextStyle: nameRich()
    }),
    Object.assign({}, common, { position: 'right', axisLabel: { show: false } })
  ];
}

function refLines(xIdx, yIdx, values, extent, dotted) {
  return values.map(v => ({
    type: 'line', xAxisIndex: xIdx, yAxisIndex: yIdx, silent: true, symbol: 'none', z: 1,
    data: [[extent[0], v], [extent[1], v]],
    lineStyle: dotted ? { color: '#333', width: 1.3, type: [1.2, 2.6] } : { color: '#333', width: 1.4, type: 'solid' },
    animation: false
  }));
}

function scatter(xIdx, yIdx, pts) {
  return {
    type: 'scatter', xAxisIndex: xIdx, yAxisIndex: yIdx, z: 3,
    data: pts, symbol: 'circle', symbolSize: 5.4, large: false,
    itemStyle: { color: '#000', opacity: 1 }, animation: false, silent: true
  };
}

function titleText(parts) {
  return '{b|' + parts[0] + '}{bi|' + parts[1] + '}{b|' + parts[2] + '}{bi|' + parts[3] + '}{b|' + parts[4] + '}';
}

const titleRich = {
  b: { fontFamily: FONT, fontSize: 18, fontWeight: 'bold', fill: '#111' },
  bi: { fontFamily: FONT, fontSize: 18, fontWeight: 'bold', fontStyle: 'italic', fill: '#111' }
};

const xName = '{t|Mean measure (mm}{sup|3}{t|)}';
const yName = '{t|Measure difference (mm}{sup|3}{t|)}';

const chart = echarts.init(document.getElementById('chart'), null, { renderer: 'canvas' });
chart.setOption({
  animation: false,
  backgroundColor: '#fff',
  grid: [
    { left: 96, top: 38, width: 560, height: 443, containLabel: false },
    { left: 773, top: 38, width: 560, height: 443, containLabel: false }
  ],
  xAxis: [].concat(
    xAxes(0, lateralXRange, lateralXTicks, xName),
    xAxes(1, medialXRange, medialXTicks, xName)
  ),
  yAxis: [].concat(
    yAxes(0, lateralYRange, lateralYTicks, yName),
    yAxes(1, medialYRange, medialYTicks, yName)
  ),
  graphic: [
    { type: 'text', x: 5, y: 20, style: { text: '(a)', font: '20px "Liberation Serif", "Times New Roman", serif', fill: '#111', textVerticalAlign: 'middle', verticalAlign: 'middle' } },
    { type: 'text', x: 674, y: 20, style: { text: '(b)', font: '20px "Liberation Serif", "Times New Roman", serif', fill: '#111', textVerticalAlign: 'middle', verticalAlign: 'middle' } },
    { type: 'text', x: 376, y: 19, style: { text: titleText(lateralTitle), rich: titleRich, textAlign: 'center', align: 'center', textVerticalAlign: 'middle', verticalAlign: 'middle' } },
    { type: 'text', x: 1053, y: 19, style: { text: titleText(medialTitle), rich: titleRich, textAlign: 'center', align: 'center', textVerticalAlign: 'middle', verticalAlign: 'middle' } }
  ],
  series: [].concat(
    refLines(0, 0, lateralLimits, lateralLineExtent, true),
    refLines(0, 0, [lateralMean], lateralMeanExtent, false),
    refLines(2, 2, medialLimits, medialLineExtent, true),
    refLines(2, 2, [medialMean], medialLineExtent, false),
    [scatter(0, 0, lateralPoints), scatter(2, 2, medialPoints)]
  )
});
</script>
</body>
</html>
